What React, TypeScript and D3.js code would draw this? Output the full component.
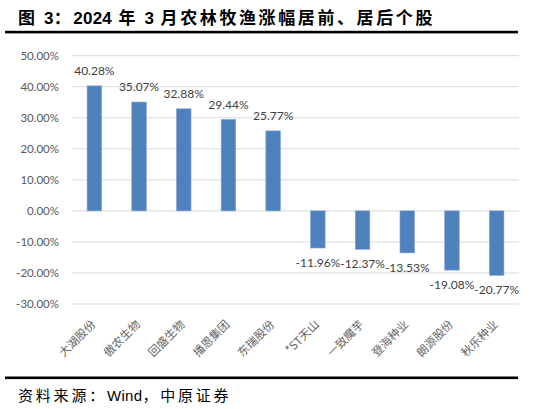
import { useEffect, useRef } from "react";
import * as d3 from "d3";

const names = ["大湖股份", "傲农生物", "回盛生物", "播恩集团", "东瑞股份", "*ST天山", "一致魔芋", "登海种业", "朗源股份", "秋乐种业"];
const changes = [40.28, 35.07, 32.88, 29.44, 25.77, -11.96, -12.37, -13.53, -19.08, -20.77];
const yTicks = [50, 40, 30, 20, 10, 0, -10, -20, -30];

const titleParts = [
    { t: "图 ", cjk: true },
    { t: "3", cjk: false },
    { t: "：", cjk: true },
    { t: "2024", cjk: false },
    { t: " 年 ", cjk: true },
    { t: "3", cjk: false },
    { t: " 月农林牧渔涨幅居前、居后个股", cjk: true },
];
const sourceParts = [
    { t: "资料来源：", cjk: true },
    { t: "Wind", cjk: false },
    { t: "，中原证券", cjk: true },
];

export default function App() {
    const ref = useRef<SVGSVGElement>(null);

    useEffect(() => {
        if (!ref.current) return;
        const svg = d3.select(ref.current);
        svg.selectAll("*").remove();

        const left = 72, right = 519;
        const x = d3.scaleBand().domain(names).range([left, right]).paddingInner(0.675).paddingOuter(0.3375);
        const y = d3.scaleLinear().domain([-30, 50]).range([304, 55.7]);

        // title
        const title = svg.append("text")
            .attr("x", 18).attr("y", 24)
            .attr("font-size", 17).attr("font-weight", "bold").attr("fill", "#000");
        titleParts.forEach((p) => {
            title.append("tspan")
                .attr("font-family", p.cjk ? "'Noto Sans CJK SC', sans-serif" : "'Liberation Sans', Arial, sans-serif")
                .attr("letter-spacing", p.cjk ? 2.6 : 0.2)
                .style("white-space", "pre")
                .text(p.t);
        });
        svg.append("rect").attr("x", 5).attr("y", 30.8).attr("width", 513).attr("height", 2.6).attr("fill", "#000");

        // gridlines + y labels
        const grid = svg.append("g");
        yTicks.forEach((t) => {
            grid.append("line")
                .attr("x1", left).attr("x2", right)
                .attr("y1", y(t)).attr("y2", y(t))
                .attr("stroke", "#d9d9d9").attr("stroke-width", 1);
            grid.append("text")
                .attr("x", 59).attr("y", y(t))
                .attr("dy", "0.35em")
                .attr("text-anchor", "end")
                .attr("font-family", "Lato, 'Open Sans', sans-serif")
                .attr("font-size", 11.5)
                .attr("fill", "#595959")
                .text(`${t.toFixed(2)}%`);
        });

        // bars
        svg.append("g").selectAll("rect")
            .data(changes)
            .join("rect")
            .attr("x", (_, i) => x(names[i])!)
            .attr("width", x.bandwidth())
            .attr("y", (d) => y(Math.max(0, d)))
            .attr("height", (d) => Math.abs(y(d) - y(0)))
            .attr("fill", "#4f81bd")
            .attr("stroke", "#7da2d4")
            .attr("stroke-width", 0.6);

        // value labels
        svg.append("g").selectAll("text")
            .data(changes)
            .join("text")
            .attr("x", (_, i) => x(names[i])! + x.bandwidth() / 2)
            .attr("y", (d) => (d >= 0 ? y(d) - 11 : y(d) + 19))
            .attr("text-anchor", "middle")
            .attr("font-family", "Lato, 'Open Sans', sans-serif")
            .attr("font-size", 12)
            .attr("fill", "#404040")
            .text((d) => `${d.toFixed(2)}%`);

        // category labels
        svg.append("g").selectAll("text")
            .data(names)
            .join("text")
            .attr("transform", (d) => `translate(${x(d)! + x.bandwidth() / 2 + 2},${325}) rotate(-45)`)
            .attr("text-anchor", "end")
            .attr("font-family", "'Noto Sans CJK SC', sans-serif")
            .attr("font-size", 11.5)
            .attr("fill", "#666")
            .text((d) => d);

        // footer
        svg.append("rect").attr("x", 5).attr("y", 376.5).attr("width", 513).attr("height", 2.6).attr("fill", "#000");
        const src = svg.append("text")
            .attr("x", 18).attr("y", 401)
            .attr("font-size", 15)
            .attr("fill", "#000");
        sourceParts.forEach((p) => {
            src.append("tspan")
                .attr("font-family", p.cjk ? "'Noto Sans CJK SC', sans-serif" : "'Liberation Sans', Arial, sans-serif")
                .attr("letter-spacing", p.cjk ? 2.8 : 0.3)
                .text(p.t);
        });
    }, []);

    return (
        <svg ref={ref} width={535} height={409}
            style={{ position: "absolute", left: 0, top: 0, background: "#fff" }} />
    );
}
